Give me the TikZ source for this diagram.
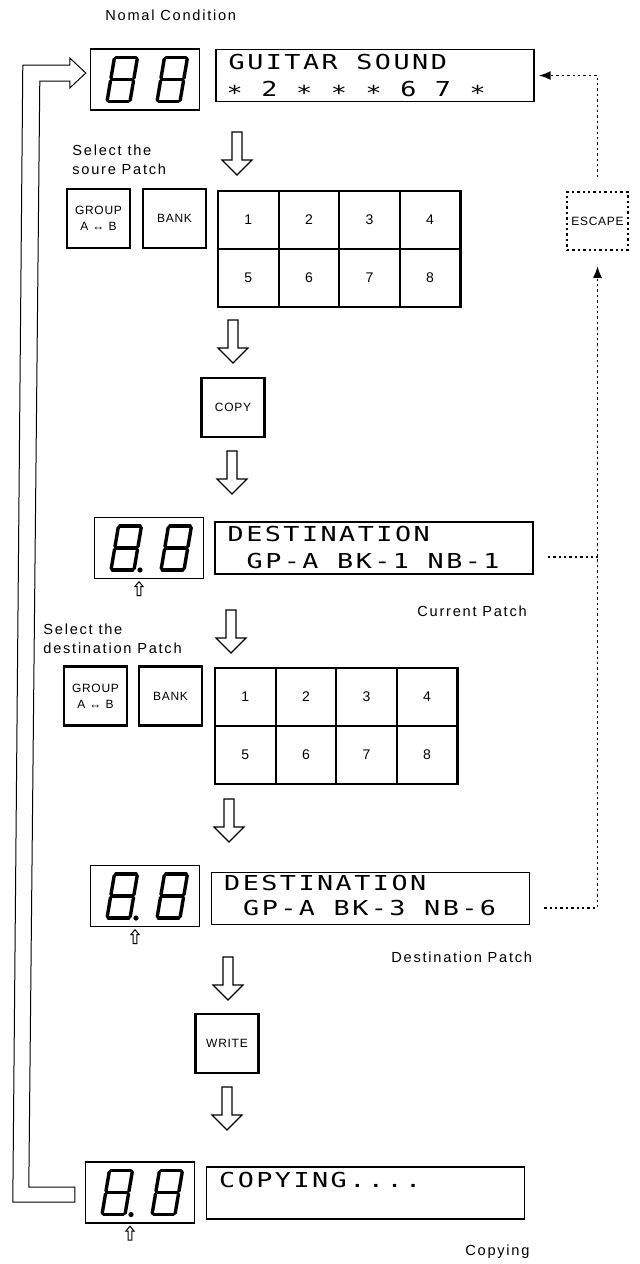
\documentclass[tikz,border=0pt]{standalone}
\usepackage{fontspec}
\setmainfont{Liberation Sans}
\newfontfamily\notefam[LetterSpace=12]{Liberation Sans}
\newfontfamily\keyfam[LetterSpace=6]{Liberation Sans}
\newfontfamily\lcdfam[FakeStretch=1.3,LetterSpace=12]{DejaVu Sans Mono}
\usetikzlibrary{arrows.meta,calc}

\newcommand\notefont{\notefam\fontsize{7.3}{9.5}\selectfont}
\newcommand\keyfont{\keyfam\fontsize{6}{8}\selectfont}
\newcommand\numfont{\fontsize{7}{8}\selectfont}
\newcommand\lcdfont{\lcdfam\fontsize{10.3}{12}\selectfont}
\newcommand\lcdstar{\raisebox{-0.17em}{*}}

\tikzset{
  key/.style={draw, line width=1.1pt, minimum width=31.5pt, minimum height=29.5pt, inner sep=0pt, align=center, font=\keyfont},
  cell/.style={draw, line width=1.1pt, minimum width=30.3pt, minimum height=29pt, inner sep=0pt, font=\numfont},
  ledbox/.style={draw, line width=0.7pt, minimum width=54.5pt, minimum height=30.5pt, inner sep=0pt},
  lcdbox/.style={draw, line width=0.7pt, minimum width=159pt, minimum height=26pt, inner sep=0pt},
  note/.style={font=\notefont, inner sep=0pt, align=left},
  lcdtext/.style={font=\lcdfont, inner sep=0pt, anchor=base west},
  dotline/.style={line width=0.9pt, dash pattern=on 1.2pt off 1.5pt},
  dottip/.style={-{Latex[length=6pt,width=4.5pt]}},
  pics/bigdown/.style={code={
    \draw[line width=0.6pt] (-5,0) -- (-5,28) -- (-15,28) -- (0,43) -- (15,28) -- (5,28) -- (5,0) -- cycle;
  }},
  pics/tinyup/.style={code={
    \draw[line width=0.5pt] (-1.8,14) -- (-1.8,5) -- (-4.2,5) -- (0,0) -- (4.2,5) -- (1.8,5) -- (1.8,14) -- cycle;
  }},
  pics/segdigit/.style={code={
    \begin{scope}[xslant=0.17, line width=1.7pt, line cap=round, shorten <=0.7pt, shorten >=0.7pt]
      \foreach \xa/\ya/\xb/\yb in {0/44/23/44, 23/44/23/22, 23/22/23/0, 0/0/23/0, 0/0/0/22, 0/22/0/44, 0/22/23/22} {
        \draw (\xa,-\ya) -- (\xb,-\yb);
      }
    \end{scope}
  }},
}

\begin{document}
\begin{tikzpicture}[x=0.5pt, y=-0.5pt]
	\useasboundingbox (0,0) rectangle (639,1264);

	% displays
	\node[ledbox] (disp1) at (145,79.5) {};
	\node[lcdbox] (lcd1) at (375,75.5) {};
	\node[ledbox] (disp2) at (149,548) {};
	\node[lcdbox] (lcd2) at (374,548) {};
	\node[ledbox] (disp3) at (145,896) {};
	\node[lcdbox] (lcd3) at (370.5,898.5) {};
	\node[ledbox] (disp4) at (140,1192.5) {};
	\node[lcdbox] (lcd4) at (365.5,1193) {};

	\foreach \d in {disp1,disp2,disp3,disp4} {
	    \pic at ($(\d.center)+(-38,22)$) {segdigit};
	    \pic at ($(\d.center)+(12,22)$) {segdigit};
	}
	\foreach \d in {disp2,disp3,disp4} {
	    \fill ($(\d.center)+(-9,22)$) circle (1.3pt);
	    \pic at ($(\d.south)+(-10,2.5)$) {tinyup};
	}

	\node[lcdtext] (t1a) at ($(lcd1.north west)+(13,21)$) {GUITAR SOUND};
	\node[lcdtext] (t1b) at ($(lcd1.north west)+(11,48)$) {\lcdstar{} 2 \lcdstar{} \lcdstar{} \lcdstar{} 6 7 \lcdstar};
	\node[lcdtext] (t2a) at ($(lcd2.north west)+(13,20)$) {DESTINATION};
	\node[lcdtext] (t2b) at ($(lcd2.north west)+(32,47)$) {GP-A BK-1 NB-1};
	\node[lcdtext] (t3a) at ($(lcd3.north west)+(13,19)$) {DESTINATION};
	\node[lcdtext] (t3b) at ($(lcd3.north west)+(32,44)$) {GP-A BK-3 NB-6};
	\node[lcdtext] (t4) at ($(lcd4.north west)+(13,21)$) {COPYING....};

	% keys
	\node[key] (grp1) at (98.5,218.5) {GROUP\\A ↔ B};
	\node[key] (bank1) at (174.5,218.5) {BANK};
	\node[key] (copy) at (233,407.5) {COPY};
	\node[key] (grp2) at (95.5,696) {GROUP\\A ↔ B};
	\node[key] (bank2) at (170.5,696) {BANK};
	\node[key] (write) at (227,1043.5) {WRITE};

	\foreach \g/\gx/\gy in {src/218/191, dst/215/668} {
	    \foreach \r in {0,1} {
	        \foreach \c in {0,...,3} {
	            \pgfmathtruncatemacro\n{4*\r+\c+1}
	            \node[cell] (\g\n) at ({\gx+30.3+60.6*\c},{\gy+29+58*\r}) {\n};
	        }
	    }
	}

	\node[draw, dotline, minimum width=30.5pt, minimum height=29pt, inner sep=0pt, font=\keyfont] (escape) at (597.5,221) {ESCAPE};

	% labels
	\node[note, anchor=west] (nomal) at (105,15) {Nomal Condition};
	\node[note, anchor=north west] (sel1) at (72,145) {Select the\\soure Patch};
	\node[note, anchor=west] (cur) at (417,611) {Current Patch};
	\node[note, anchor=north west] (sel2) at (43,624) {Select the\\destination Patch};
	\node[note, anchor=west] (dpat) at (391,957) {Destination Patch};
	\node[note, anchor=west] (cpy) at (465,1252) {Copying};

	% flow arrows
	\foreach \ax/\ay in {237/132, 233/320, 232/451, 231/610, 229/799, 228/957, 227/1087} {
	    \pic at (\ax,\ay) {bigdown};
	}

	% back to normal condition
	\coordinate (rt) at ($(disp1.west)+(-4,-6.5)$);
	\coordinate (rb) at ($(disp4.west)+(-10,2)$);
	\draw[line width=0.5pt] (rt) -- ++(-16,15) -- ++(0,-7) -- ++(-30,0)
	    -- ($(rb)+(-46,-7.5)$) -- ($(rb)+(0,-7.5)$) -- ($(rb)+(0,7.5)$) -- ($(rb)+(-62,7.5)$)
	    -- ($(rt)+(-63,-8)$) -- ($(rt)+(-16,-8)$) -- ($(rt)+(-16,-15)$) -- cycle;

	% escape
	\coordinate (d3) at ($(lcd3.east)+(14,9.5)$);
	\coordinate (d2) at ($(lcd2.east)+(14,9)$);
	\draw[dotline, dottip] (d3) -| ($(escape.south)+(0,15)$);
	\draw[dotline] (d2) -- (d2 -| escape.south);
	\draw[dotline, dottip] ($(escape.north)+(0,-14)$) |- ($(lcd1.east)+(4,0)$);
\end{tikzpicture}
\end{document}
